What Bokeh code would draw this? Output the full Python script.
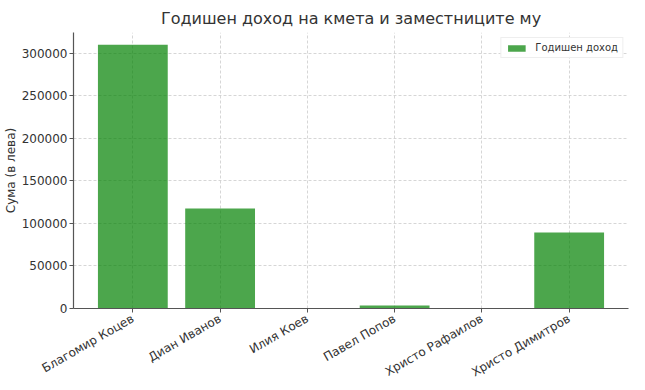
import math
from bokeh.plotting import figure
from bokeh.models import ColumnDataSource, Range1d, FixedTicker, Legend, LegendItem, BasicTickFormatter
from bokeh.embed import file_html
from bokeh.resources import INLINE

names = ["Благомир Коцев", "Диан Иванов", "Илия Коев", "Павел Попов", "Христо Рафаилов", "Христо Димитров"]
income = [310000, 117500, 0, 3500, 0, 89500]
y_ticks = [0, 50000, 100000, 150000, 200000, 250000, 300000]

FONT = "DejaVu Sans"
TXT = "#333333"

src = ColumnDataSource(dict(x=list(range(len(names))), top=income, name=names))

p = figure(width=645, height=390, output_backend="svg", toolbar_location=None,
           x_range=Range1d(-0.68, 5.68), y_range=Range1d(0, 324500),
           min_border_left=4, min_border_right=17, min_border_top=32, min_border_bottom=82)

p.title.text = "Годишен доход на кмета и заместниците му"
p.title.align = "center"
p.title.text_font = FONT
p.title.text_font_size = "16px"
p.title.text_font_style = "normal"
p.title.text_color = TXT
p.title.offset = 2

r = p.vbar(x="x", top="top", width=0.8, source=src, fill_color="green", fill_alpha=0.7,
           line_color=None)

p.xaxis.ticker = FixedTicker(ticks=list(range(len(names))))
p.xaxis.major_label_overrides = {i: n for i, n in enumerate(names)}
p.xaxis.major_label_orientation = math.pi / 6
p.yaxis.ticker = FixedTicker(ticks=y_ticks)
p.yaxis.formatter = BasicTickFormatter(use_scientific=False)
p.yaxis.axis_label = "Сума (в лева)"
p.yaxis.axis_label_standoff = 1
p.yaxis.major_label_standoff = 2

for ax in (p.xaxis, p.yaxis):
    ax.major_label_text_font = FONT
    ax.major_label_text_font_size = "12px"
    ax.major_label_text_color = TXT
    ax.axis_line_color = "#555555"
    ax.axis_line_width = 1.2
    ax.major_tick_line_color = "#555555"
    ax.major_tick_in = 0
    ax.major_tick_out = 4
    ax.minor_tick_line_color = None
    ax.axis_label_text_font = FONT
    ax.axis_label_text_font_size = "12px"
    ax.axis_label_text_font_style = "normal"
    ax.axis_label_text_color = TXT

p.outline_line_color = None
p.grid.grid_line_color = "#cccccc"
p.grid.grid_line_dash = "3 2"
p.grid.grid_line_width = 0.8

legend = Legend(items=[LegendItem(label="Годишен доход", renderers=[r])], location="top_right")
legend.label_text_font = FONT
legend.label_text_font_size = "10px"
legend.label_text_color = TXT
legend.border_line_color = "#dddddd"
legend.glyph_width = 22
legend.glyph_height = 8
legend.padding = 4
legend.margin = 5
legend.spacing = 0
legend.label_standoff = 8
legend.label_height = 10
p.add_layout(legend)

open("out.html", "w").write(file_html(p, INLINE))
